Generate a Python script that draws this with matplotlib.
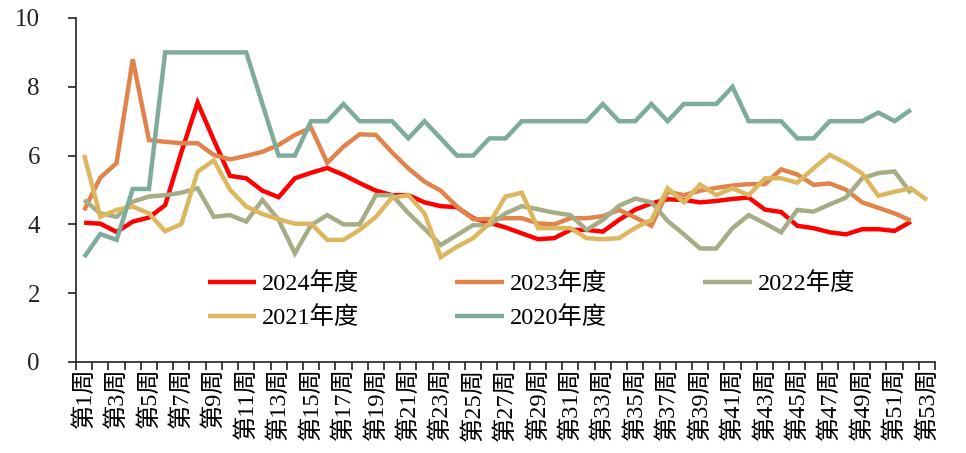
import matplotlib
matplotlib.use("Agg")
import matplotlib.pyplot as plt

plt.rcParams['font.family'] = ['Liberation Serif', 'Noto Sans CJK SC', 'DejaVu Sans']

weeks = list(range(1, 54))
week_labels = ["第%d周" % w for w in weeks]

s2024 = [4.05, 4.02, 3.78, 4.08, 4.2, 4.56, 6.1, 7.54, 6.45, 5.41, 5.34, 4.98, 4.79, 5.34, 5.5, 5.64,
         5.44, 5.2, 4.98, 4.85, 4.85, 4.64, 4.53, 4.5, 4.18, 4.05, 3.91, 3.74, 3.57, 3.6, 3.84, 3.84,
         3.79, 4.13, 4.43, 4.61, 4.73, 4.71, 4.64, 4.68, 4.74, 4.78, 4.43, 4.36, 3.96, 3.89, 3.77,
         3.71, 3.86, 3.86, 3.81, 4.08]
s2023 = [4.41, 5.36, 5.78, 8.8, 6.45, 6.4, 6.36, 6.36, 6.02, 5.89, 5.99, 6.11, 6.31, 6.6, 6.81, 5.79,
         6.26, 6.62, 6.6, 6.09, 5.63, 5.24, 4.98, 4.52, 4.15, 4.15, 4.18, 4.18, 4.03, 4.0, 4.18, 4.18,
         4.24, 4.42, 4.2, 3.96, 4.95, 4.85, 4.98, 5.06, 5.13, 5.17, 5.17, 5.6, 5.45, 5.15, 5.19, 5.01,
         4.64, 4.48, 4.32, 4.11]
s2022 = [4.71, 4.32, 4.22, 4.66, 4.81, 4.85, 4.92, 5.05, 4.22, 4.27, 4.08, 4.71, 4.13, 3.16, 3.98,
         4.27, 4.0, 4.0, 4.85, 4.85, 4.33, 3.87, 3.4, 3.69, 3.98, 3.98, 4.32, 4.53, 4.44, 4.34, 4.27,
         3.84, 4.13, 4.54, 4.75, 4.64, 4.1, 3.71, 3.3, 3.3, 3.89, 4.27, 4.03, 3.77, 4.42, 4.37, 4.58,
         4.78, 5.34, 5.49, 5.54, 4.91]
s2021 = [6.02, 4.22, 4.42, 4.52, 4.32, 3.8, 4.01, 5.53, 5.86, 5.01, 4.52, 4.3, 4.15, 4.02, 4.02,
         3.55, 3.55, 3.84, 4.22, 4.78, 4.85, 4.32, 3.05, 3.35, 3.6, 4.03, 4.81, 4.92, 3.89, 3.89, 3.89,
         3.6, 3.57, 3.6, 3.9, 4.13, 5.05, 4.64, 5.16, 4.85, 5.05, 4.85, 5.34, 5.34, 5.21, 5.63, 6.02,
         5.78, 5.48, 4.83, 4.95, 5.05, 4.71]
s2020 = [3.05, 3.72, 3.55, 5.03, 5.03, 9, 9, 9, 9, 9, 9, 7.5, 6, 6, 7, 7, 7.5, 7, 7, 7, 6.5, 7, 6.5,
         6, 6, 6.5, 6.5, 7, 7, 7, 7, 7, 7.5, 7, 7, 7.5, 7, 7.5, 7.5, 7.5, 8, 7, 7, 7, 6.5, 6.5, 7, 7,
         7, 7.25, 7.0, 7.33]

series = [("2024年度", s2024, "#FF0000"),
          ("2023年度", s2023, "#E0844B"),
          ("2022年度", s2022, "#A6AD86"),
          ("2021年度", s2021, "#DDB760"),
          ("2020年度", s2020, "#7FAB9E")]

fig = plt.figure(figsize=(9.66, 4.53), dpi=100)
ax = fig.add_axes([0.0787, 0.2009, 0.8893, 0.7594])

lines = {}
for name, vals, col in series:
    ln, = ax.plot(weeks[:len(vals)], vals, color=col, lw=3.2, label=name,
                  solid_joinstyle='miter', solid_capstyle='butt')
    lines[name] = ln

ax.set_xlim(0.5, 53.5)
ax.set_ylim(0, 10)
ax.set_yticks([0, 2, 4, 6, 8, 10])
ax.tick_params(axis='y', labelsize=18, length=6, width=1.2, pad=20, colors='#222222')

# category boundaries carry the tick marks, labels sit on odd weeks
ax.set_xticks([w + 0.5 for w in range(0, 54)], minor=True)
ax.set_xticks(weeks[::2])
ax.set_xticklabels(week_labels[::2], rotation=90, fontsize=17.5)
ax.tick_params(axis='x', which='major', length=0, pad=4)
ax.tick_params(axis='x', which='minor', length=6, width=1.2, color='#222222')

for sp in ['top', 'right']:
    ax.spines[sp].set_visible(False)
for sp in ['left', 'bottom']:
    ax.spines[sp].set_color('#222222')
    ax.spines[sp].set_linewidth(1.2)

order = ["2024年度", "2021年度", "2023年度", "2020年度", "2022年度"]
ax.legend([lines[n] for n in order], order, ncol=3, frameon=False, fontsize=17.5,
          loc='center', bbox_to_anchor=(0.53, 0.178), handlelength=2.0,
          columnspacing=3.95, labelspacing=0.45, handletextpad=0.25)

fig.savefig("out.png", dpi=100)
